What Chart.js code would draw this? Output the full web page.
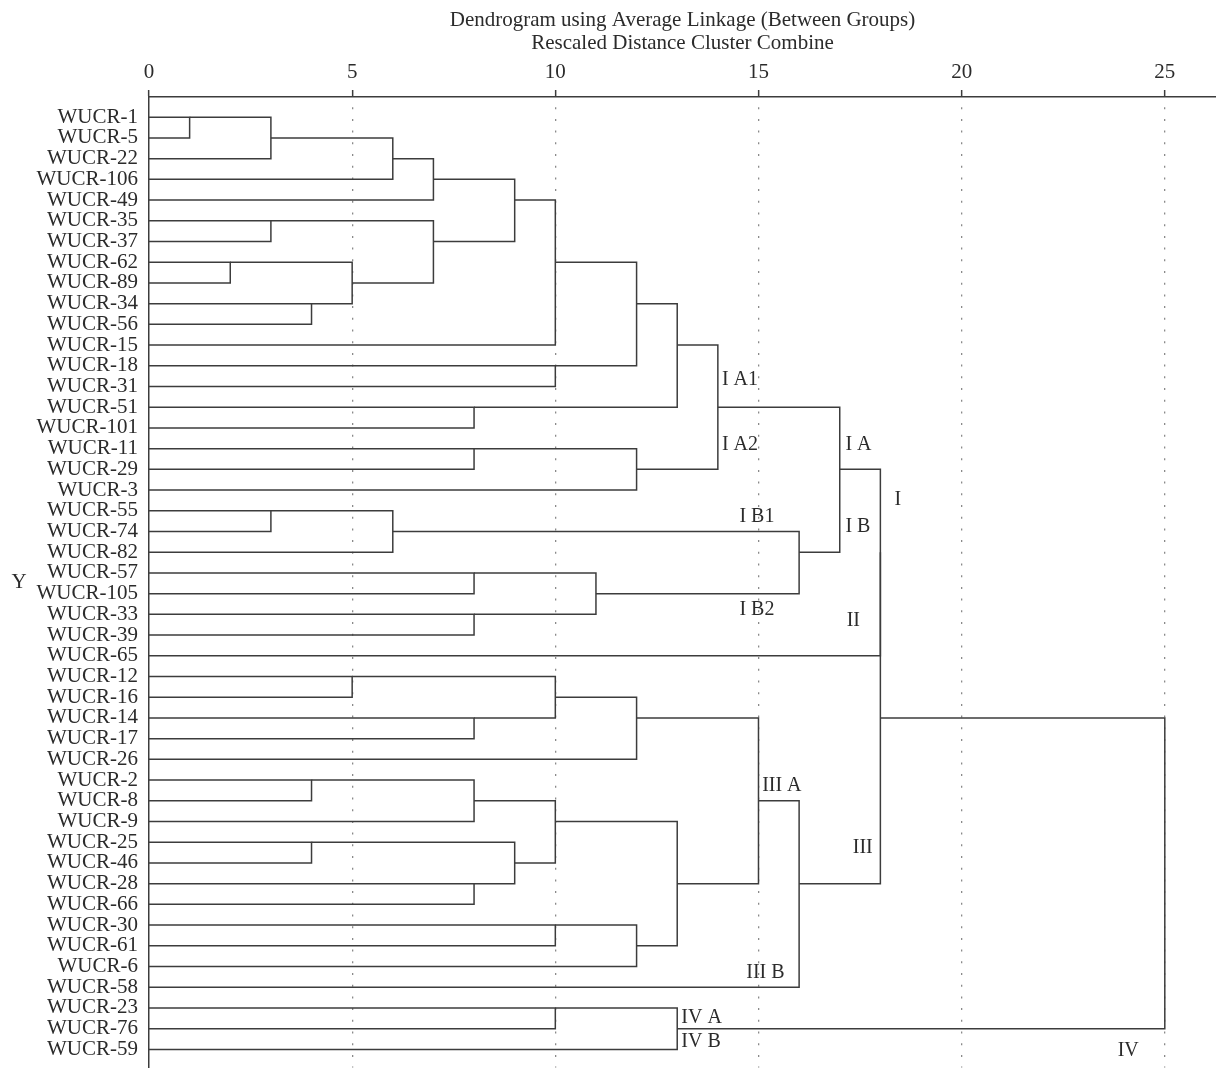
<!DOCTYPE html>
<html>
<head>
<meta charset="utf-8">
<script src="https://cdn.jsdelivr.net/npm/chart.js@4.4.1/dist/chart.umd.min.js"></script>
<style>
  body { margin: 0; background: #fff; }
  #wrap { width: 1216px; height: 1091px; }
</style>
</head>
<body>
<div id="wrap"><canvas id="dendro" width="1216" height="1091"></canvas></div>
<script>
// hojas en el orden del dendrograma (de arriba a abajo)
const leafLabels = [
  'WUCR-1', 'WUCR-5', 'WUCR-22', 'WUCR-106', 'WUCR-49', 'WUCR-35', 'WUCR-37', 'WUCR-62',
  'WUCR-89', 'WUCR-34', 'WUCR-56', 'WUCR-15', 'WUCR-18', 'WUCR-31', 'WUCR-51', 'WUCR-101',
  'WUCR-11', 'WUCR-29', 'WUCR-3', 'WUCR-55', 'WUCR-74', 'WUCR-82', 'WUCR-57', 'WUCR-105',
  'WUCR-33', 'WUCR-39', 'WUCR-65', 'WUCR-12', 'WUCR-16', 'WUCR-14', 'WUCR-17', 'WUCR-26',
  'WUCR-2', 'WUCR-8', 'WUCR-9', 'WUCR-25', 'WUCR-46', 'WUCR-28', 'WUCR-66', 'WUCR-30',
  'WUCR-61', 'WUCR-6', 'WUCR-58', 'WUCR-23', 'WUCR-76', 'WUCR-59'
];

// tabla de uniones: 'mK' = resultado de la union K
const mergeLeft = [
  'WUCR-1', 'm0', 'm1', 'm2', 'WUCR-35', 'WUCR-62', 'WUCR-34', 'm5', 'm4', 'm3',
  'm9', 'WUCR-18', 'm10', 'WUCR-51', 'm12', 'WUCR-11', 'm15', 'm14', 'WUCR-55', 'm18',
  'WUCR-57', 'WUCR-33', 'm20', 'm19', 'm17', 'm24', 'WUCR-12', 'WUCR-14', 'm26', 'm28',
  'WUCR-2', 'm30', 'WUCR-25', 'WUCR-28', 'm32', 'm31', 'WUCR-30', 'm36', 'm35', 'm29',
  'm39', 'm25', 'WUCR-23', 'm42', 'm41'
];
const mergeRight = [
  'WUCR-5', 'WUCR-22', 'WUCR-106', 'WUCR-49', 'WUCR-37', 'WUCR-89', 'WUCR-56', 'm6', 'm7', 'm8',
  'WUCR-15', 'WUCR-31', 'm11', 'WUCR-101', 'm13', 'WUCR-29', 'WUCR-3', 'm16', 'WUCR-74', 'WUCR-82',
  'WUCR-105', 'WUCR-39', 'm21', 'm22', 'm23', 'WUCR-65', 'WUCR-16', 'WUCR-17', 'm27', 'WUCR-26',
  'WUCR-8', 'WUCR-9', 'WUCR-46', 'WUCR-66', 'm33', 'm34', 'WUCR-61', 'WUCR-6', 'm37', 'm38',
  'WUCR-58', 'm40', 'WUCR-76', 'WUCR-59', 'm43'
];
const mergeDist = [
  1, 3, 6, 7, 3, 2, 4, 5, 7, 9,
  10, 10, 12, 8, 13, 8, 12, 14, 3, 6,
  8, 8, 11, 16, 17, 18, 5, 8, 10, 12,
  4, 8, 4, 8, 9, 10, 10, 12, 13, 15,
  16, 18, 10, 13, 25
];

const distTicks = [0, 5, 10, 15, 20, 25];

// etiquetas de grupos (texto, distancia, fila)
const groupNames = ['I A1', 'I A2', 'I B1', 'I B2', 'I A', 'I B', 'I', 'II', 'III A', 'III', 'III B', 'IV A', 'IV B', 'IV'];
const groupDist = [14.1, 14.1, 14.53, 14.53, 17.14, 17.14, 18.35, 17.17, 15.09, 17.32, 14.7, 13.1, 13.1, 23.84];
const groupRow = [12.68, 15.79, 19.27, 23.8, 15.79, 19.79, 18.49, 24.33, 32.26, 35.25, 41.3, 43.46, 44.64, 45.08];

const titleLines = ['Dendrogram using Average Linkage (Between Groups)', 'Rescaled Distance Cluster Combine'];
const yTitle = 'Y';

const FONT = '"Liberation Serif", "DejaVu Serif", serif';
const INK = '#2b2b2b';
const LINE = '#3c3c3c';

// filas y distancias de cada nodo
const nodeRow = {};
const nodeDist = {};
leafLabels.forEach((n, i) => { nodeRow[n] = i; nodeDist[n] = 0; });

const datasets = mergeDist.map((d, k) => {
  const a = mergeLeft[k], b = mergeRight[k];
  const ra = nodeRow[a], rb = nodeRow[b];
  nodeRow['m' + k] = Math.floor((ra + rb) / 2);
  nodeDist['m' + k] = d;
  return {
    data: [
      {x: nodeDist[a], y: ra},
      {x: d, y: ra},
      {x: d, y: rb},
      {x: nodeDist[b], y: rb}
    ],
    showLine: true,
    borderColor: LINE,
    borderWidth: 1.5,
    pointRadius: 0,
    tension: 0,
    fill: false
  };
});

const textosPlugin = {
  id: 'textos',
  afterDraw(chart) {
    const ctx = chart.ctx;
    const area = chart.chartArea;
    const xs = chart.scales.x, ys = chart.scales.y;
    ctx.save();
    ctx.fillStyle = INK;
    ctx.font = '21px ' + FONT;
    ctx.textAlign = 'center';
    ctx.textBaseline = 'alphabetic';
    const cx = (area.left + area.right) / 2;
    ctx.fillText(titleLines[0], cx, 26);
    ctx.fillText(titleLines[1], cx, 49);

    ctx.textBaseline = 'middle';
    ctx.fillText(yTitle, 19, (area.top + area.bottom) / 2);

    ctx.font = '20px ' + FONT;
    ctx.textAlign = 'left';
    groupNames.forEach((t, i) => {
      ctx.fillText(t, xs.getPixelForValue(groupDist[i]), ys.getPixelForValue(groupRow[i]));
    });
    ctx.restore();
  }
};

const ctx = document.getElementById('dendro').getContext('2d');
const grafico = new Chart(ctx, {
  type: 'scatter',
  data: { datasets: datasets },
  options: {
    responsive: false,
    animation: false,
    devicePixelRatio: 1,
    layout: { padding: 0 },
    plugins: {
      legend: { display: false },
      tooltip: { enabled: false },
      title: { display: false }
    },
    scales: {
      x: {
        type: 'linear',
        position: 'top',
        min: 0,
        max: 26.26,
        afterFit: s => { s.height = 97; },
        afterBuildTicks: s => { s.ticks = distTicks.map(v => ({value: v})); },
        ticks: {
          color: INK,
          font: { family: FONT, size: 21 },
          padding: 5,
          maxRotation: 0,
          autoSkip: false
        },
        grid: {
          color: c => (c.tick && c.tick.value === 0) ? 'rgba(0,0,0,0)' : '#8a8a8a',
          lineWidth: 1.3,
          tickColor: LINE,
          tickLength: 7,
          tickWidth: 1.5
        },
        border: { display: true, color: LINE, width: 1.5, dash: [2, 9.7], dashOffset: 2 }
      },
      y: {
        type: 'linear',
        reverse: true,
        min: -0.975,
        max: 45.87,
        afterFit: s => { s.width = 149; },
        afterBuildTicks: s => { s.ticks = leafLabels.map((_, i) => ({value: i})); },
        ticks: {
          color: INK,
          font: { family: FONT, size: 21 },
          padding: 11,
          autoSkip: false,
          callback: v => leafLabels[Math.round(v)] || ''
        },
        grid: { display: false, drawTicks: false },
        border: { display: true, color: LINE, width: 1.5 }
      }
    }
  },
  plugins: [textosPlugin]
});
</script>
</body>
</html>
